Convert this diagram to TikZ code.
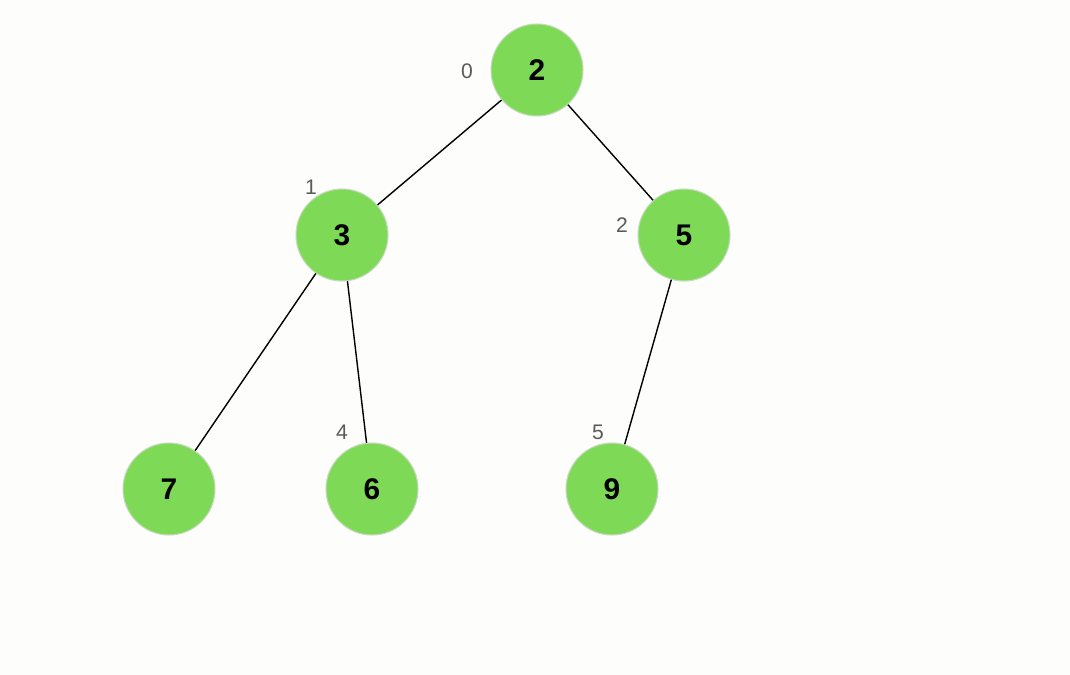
\documentclass[tikz,border=0pt]{standalone}
\usepackage{fontspec}
\setmainfont{Liberation Sans}
\usepackage{tikz}
\definecolor{heapgreen}{HTML}{7ED957}
\definecolor{heapedge}{HTML}{C4D9BA}
\definecolor{idxgray}{HTML}{5A5A5A}
\definecolor{paper}{HTML}{FDFDFB}

\begin{document}
\begin{tikzpicture}[x=0.02cm, y=-0.02cm,
  every node/.style = {inner sep=0pt},
  heap/.style = {shape=circle, minimum size=1.84cm, fill=heapgreen,
    draw=heapedge, line width=0.6pt, font=\bfseries\fontsize{17}{17}\selectfont},
  idx/.style = {text=idxgray, font=\fontsize{12}{12}\selectfont},
  link/.style = {draw=black, line width=0.8pt}]
  \fill[paper] (0,0) rectangle (1070,675);
  \useasboundingbox (0,0) rectangle (1070,675);
  % heap nodes
  \node[heap] (n0) at (537,70) {2};
  \node[heap] (n1) at (342,235) {3};
  \node[heap] (n2) at (684,235) {5};
  \node[heap] (n3) at (169,489) {7};
  \node[heap] (n4) at (372,489) {6};
  \node[heap] (n5) at (612,489) {9};
  % array indices
  \node[idx] (i0) at (467,71) {0};
  \node[idx] (i1) at (311,187) {1};
  \node[idx] (i2) at (622,225) {2};
  \node[idx] (i4) at (342,432) {4};
  \node[idx] (i5) at (598,432) {5};
  % edges
  \draw[link] (n0) -- (n1);
  \draw[link] (n0) -- (n2);
  \draw[link] (n1) -- (n3);
  \draw[link] (n1) -- (n4);
  \draw[link] (n2) -- (n5);
\end{tikzpicture}
\end{document}
